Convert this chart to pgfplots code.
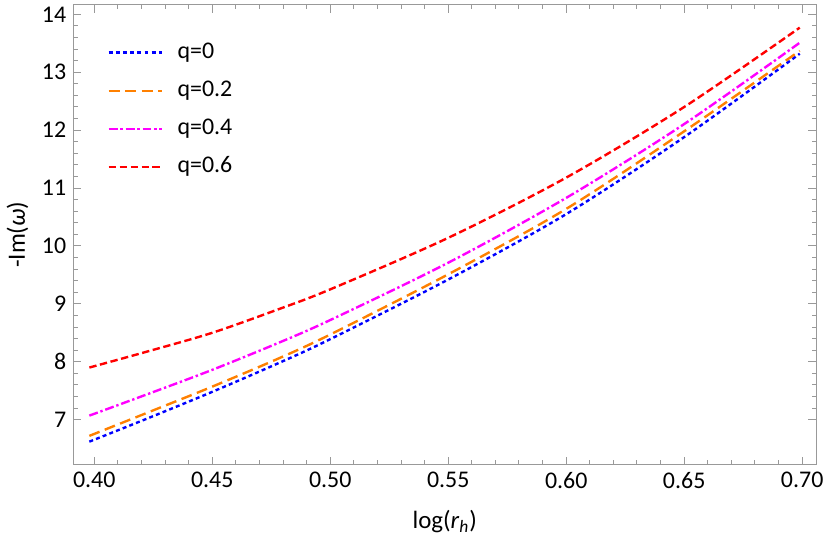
\documentclass[border=0pt]{standalone}
\usepackage{fontspec}
\setmainfont{Carlito}
\usepackage{pgfplots}
\pgfplotsset{compat=1.18}
\definecolor{framegray}{gray}{0.6}
\definecolor{mmaorange}{rgb}{1,0.5,0}
\definecolor{mmamagenta}{rgb}{1,0,1}
\definecolor{mmablue}{rgb}{0,0,1}
\definecolor{mmared}{rgb}{1,0,0}
\begin{document}
\begin{tikzpicture}
\begin{axis}[
  scale only axis, width=373pt, height=231pt,
  xmin=0.3911, xmax=0.706, ymin=6.219, ymax=14.167,
  axis line style={framegray, line width=0.6pt},
  tick style={framegray, line width=0.5pt},
  tick align=inside,
  major tick length=4pt, minor tick length=2.4pt,
  xtick={0.40,0.45,0.50,0.55,0.60,0.65,0.70}, minor x tick num=4,
  ytick={7,8,9,10,11,12,13,14}, minor y tick num=4,
  /pgf/number format/assume math mode=true,
  xticklabel style={/pgf/number format/.cd, fixed, fixed zerofill, precision=2},
  ticklabel style={font=\fontsize{12}{14}\selectfont},
  label style={font=\fontsize{12.5}{15}\selectfont},
  xlabel={log(\textit{r}\textsubscript{\textit{h}})},
  ylabel={-Im(\textit{ω})},
  xlabel style={at={(axis description cs:0.5,-0.1234)}, anchor=center},
  ylabel style={at={(axis description cs:-0.075,0.5)}, anchor=center},
  legend cell align=left,
  legend image code/.code={\draw[#1] (0pt,0pt) -- (27pt,0pt);},
  legend style={draw=none, fill=none, at={(0.0375,0.928)}, anchor=north west,
    font=\fontsize{12}{14}\selectfont, row sep=8.6pt, column sep=7pt,
    nodes={inner sep=0pt, text height=8pt, text depth=2.5pt}},
]
\addplot[mmablue, line width=1.2pt, smooth, dash pattern=on 2pt off 1.6pt] coordinates {
(0.39794,6.62) (0.4219,7.01) (0.45,7.48) (0.4783,7.98) (0.50,8.39) (0.55,9.42) (0.60,10.55) (0.65,11.88) (0.69897,13.32)};
\addlegendentry{q=0}
\addplot[mmaorange, line width=1.2pt, smooth, dash pattern=on 5.5pt off 2.8pt] coordinates {
(0.39794,6.72) (0.4219,7.11) (0.45,7.57) (0.4783,8.06) (0.50,8.47) (0.55,9.51) (0.60,10.64) (0.65,11.98) (0.69897,13.37)};
\addlegendentry{q=0.2}
\addplot[mmamagenta, line width=1.2pt, smooth, dash pattern=on 4.5pt off 1.4pt on 1.2pt off 1.4pt] coordinates {
(0.39794,7.07) (0.4219,7.43) (0.45,7.86) (0.4783,8.33) (0.50,8.72) (0.55,9.71) (0.60,10.83) (0.65,12.105) (0.69897,13.51)};
\addlegendentry{q=0.4}
\addplot[mmared, line width=1.2pt, smooth, dash pattern=on 3.7pt off 1.8pt] coordinates {
(0.39794,7.90) (0.4219,8.17) (0.45,8.50) (0.4783,8.91) (0.50,9.25) (0.55,10.14) (0.60,11.18) (0.65,12.40) (0.69897,13.77)};
\addlegendentry{q=0.6}
\end{axis}
\end{tikzpicture}
\end{document}
